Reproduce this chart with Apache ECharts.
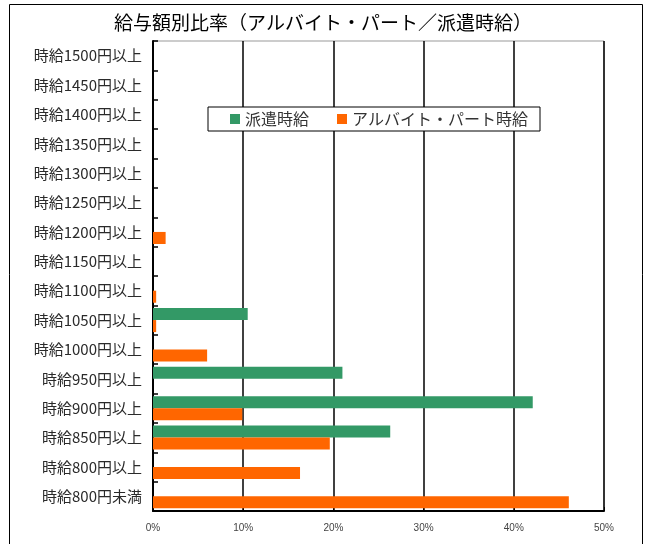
<!DOCTYPE html>
<html><head><meta charset="utf-8">
<script src="https://cdn.jsdelivr.net/npm/echarts@6/dist/echarts.min.js"></script>
<style>html,body{margin:0;padding:0;background:#fff}#c{width:646px;height:544px}</style>
</head><body><div id="c"></div>
<script>
var categories = ['時給800円未満','時給800円以上','時給850円以上','時給900円以上','時給950円以上','時給1000円以上','時給1050円以上','時給1100円以上','時給1150円以上','時給1200円以上','時給1250円以上','時給1300円以上','時給1350円以上','時給1400円以上','時給1450円以上','時給1500円以上'];
var hakenValues = [0, 0, 26.3, 42.1, 21.0, 0, 10.5, 0, 0, 0, 0, 0, 0, 0, 0, 0];
var partValues  = [46.1, 16.3, 19.6, 9.9, 0, 6.0, 0.35, 0.35, 0, 1.4, 0, 0, 0, 0, 0, 0];
var xTicks = [0, 10, 20, 30, 40, 50];
var seriesNames = ['派遣時給', 'アルバイト・パート時給'];
var titleText = '給与額別比率（アルバイト・パート／派遣時給）';

var chart = echarts.init(document.getElementById('c'), null, {renderer: 'canvas'});
var font = '"Noto Sans CJK JP", sans-serif';
chart.setOption({
  animation: false,
  textStyle: {fontFamily: font},
  title: {text: titleText, left: 'center', top: 8, textStyle: {fontSize: 19, fontWeight: 'normal', color: '#000', fontFamily: font}},
  graphic: [{type: 'rect', shape: {x: 9.5, y: 4.5, width: 633, height: 600}, style: {fill: 'none', stroke: '#000', lineWidth: 1}, silent: true}],
  legend: {
    data: seriesNames, top: 107, left: 208, itemWidth: 10, itemHeight: 10, itemGap: 28,
    backgroundColor: '#fff', borderColor: '#000', borderWidth: 1, padding: [4, 12, 4, 22],
    icon: 'rect', textStyle: {fontSize: 16, color: '#333', fontFamily: font}
  },
  grid: {left: 153, right: 42, top: 41, bottom: 33, show: true, borderColor: '#999', borderWidth: 1, containLabel: false},
  xAxis: {
    type: 'value', min: xTicks[0], max: xTicks[xTicks.length - 1], interval: 10,
    axisLine: {show: true, lineStyle: {color: '#000', width: 2}},
    axisTick: {show: true, inside: true, length: 4, lineStyle: {color: '#000'}},
    splitLine: {show: true, lineStyle: {color: '#000', width: 1.5}},
    axisLabel: {formatter: '{value}%', fontSize: 10, color: '#444', margin: 12, fontFamily: 'Liberation Sans, sans-serif'}
  },
  yAxis: {
    type: 'category', data: categories,
    axisLine: {show: true, lineStyle: {color: '#000', width: 2}},
    axisTick: {show: true, inside: true, length: 5, lineStyle: {color: '#000', width: 1.5}},
    axisLabel: {fontSize: 15, color: '#2a2a2a', margin: 11, fontFamily: font}
  },
  series: [
    {name: seriesNames[0], type: 'bar', data: hakenValues, itemStyle: {color: '#339966'}, barGap: '0%', barCategoryGap: '18%'},
    {name: seriesNames[1], type: 'bar', data: partValues, itemStyle: {color: '#FF6600'}, barGap: '0%', barCategoryGap: '18%'}
  ]
});
</script></body></html>
